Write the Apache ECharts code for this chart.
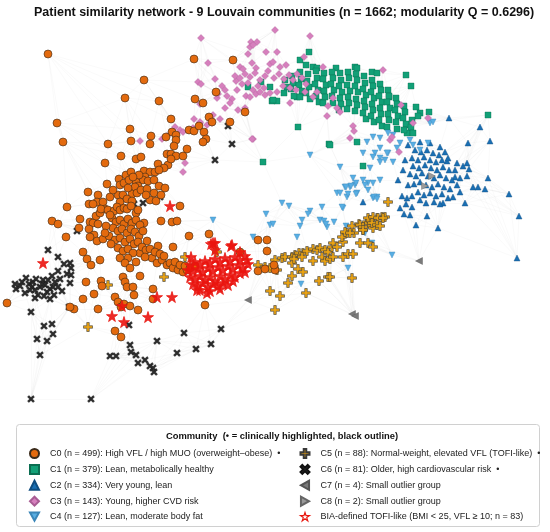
<!DOCTYPE html>
<html>
<head>
<meta charset="utf-8">
<script src="https://cdn.jsdelivr.net/npm/echarts@6/dist/echarts.min.js"></script>
<style>
  html, body { margin: 0; padding: 0; background: #fff; }
  #chart { width: 550px; height: 532px; }
</style>
</head>
<body>
<div id="chart"></div>
<script>
let c0 = [[48,54],[194,59],[233,60],[144,80],[125,98],[159,101],[195,99],[203,103],[216,92],[57,123],[63,142],[171,119],[130,129],[209,117],[212,122],[245,112],[230,122],[189,130],[194,131],[199,126],[204,132],[172,132],[176,135],[166,137],[151,136],[150,144],[131,141],[108,144],[206,139],[203,142],[176,140],[174,146],[121,156],[136,159],[141,157],[167,154],[171,154],[176,156],[183,156],[187,149],[105,163],[158,164],[168,165],[164,168],[171,159],[144,171],[150,172],[155,172],[159,170],[145,177],[143,180],[119,179],[107,184],[120,185],[124,183],[136,182],[138,186],[135,187],[148,181],[154,180],[159,186],[165,188],[88,192],[98,195],[110,197],[118,195],[123,195],[132,194],[137,193],[141,190],[147,189],[154,193],[97,202],[103,202],[120,202],[127,199],[132,201],[150,200],[156,201],[89,204],[93,204],[105,209],[67,207],[180,206],
  [52,221],[58,224],[66,237],[80,219],[79,228],[90,222],[93,223],[98,224],[96,216],[100,213],[101,209],[108,210],[114,211],[117,207],[120,210],[124,208],[127,209],[131,206],[136,213],[138,210],[89,229],[94,235],[90,237],[97,241],[103,239],[109,236],[144,223],[161,221],[172,222],[177,221],[189,236],[209,234],[147,241],[158,246],[173,247],[83,252],[87,259],[91,265],[100,260],[140,253],[152,258],[157,263],[162,260],[167,265],[170,263],[173,268],[178,270],[183,272],[187,270],[123,277],[125,282],[127,287],[133,287],[134,295],[140,276],[86,282],[101,281],[102,286],[94,294],[83,299],[98,309],[74,309],[70,307],[7,303],[115,297],[118,302],[121,307],[124,304],[130,306],[138,310],[153,299],[153,289],[115,331],[121,337],[205,305],[258,240],[267,240],[267,251],[240,252],[258,271],[265,269],[275,270],[274,265],
  [112,218],[116,222],[120,220],[124,224],[128,219],[132,223],[136,220],[140,225],[113,228],[118,231],[122,229],[127,233],[131,229],[135,232],[139,236],[143,231],[115,240],[120,238],[125,242],[130,239],[134,244],[138,242],[142,247],[146,250],[118,248],[123,251],[128,249],[133,253],[150,249],[155,252],[160,254],[164,256],[110,215],[106,226],[105,233],[111,244],[128,258],[136,262],[145,257],[120,258],[125,263],[130,268],[175,262],[180,265],[185,266],[190,268],[195,266],[126,175],[131,172],[139,175],[128,188],[113,190],[146,195],[161,195],[129,180],[133,177]];

let c1 = [[309,52],[300,60],[306,65],[313,67],[317,68],[336,68],[355,67],[357,68],[406,75],[411,86],[372,72],[377,73],[248,87],[261,82],[270,87],[272,101],[277,101],[297,97],[298,127],[329,144],[263,162],[357,142],[363,166],[416,107],[420,113],[418,116],[429,112],[389,97],[488,115],[410,125],[407,133],[330,145],[273,100],
  [285,80],[287,87],[284,93],[292,76],[293,83],[291,89],[294,96],[300,72],[301,79],[299,85],[302,91],[300,97],[308,74],[307,81],[309,87],[306,93],[310,99],[316,71],[317,78],[315,84],[318,90],[316,96],[319,102],[324,73],[323,79],[326,85],[324,91],[325,97],[323,103],[332,72],[333,78],[331,84],[334,90],[332,96],[333,103],[340,73],[341,80],[339,86],[342,92],[340,98],[341,104],[339,110],[348,72],[349,78],[347,85],[350,91],[348,97],[349,103],[347,109],[356,74],[357,80],[355,86],[358,92],[356,99],[357,105],[355,111],[364,76],[365,83],[363,89],[366,95],[364,101],[365,107],[363,113],[366,119],[372,80],[373,86],[371,92],[374,98],[372,104],[373,110],[371,116],[374,122],[380,84],[381,90],[379,96],[382,102],[380,108],[381,114],[379,120],[382,126],[388,90],[389,96],[387,102],[390,108],[388,114],[389,120],[387,127],[396,98],[397,104],[395,110],[398,116],[396,122],[397,129],[404,106],[405,112],[403,118],[406,124],[404,130],[412,120],[411,127],[413,133]];

let c2 = [[449,118],[480,127],[468,143],[490,141],[430,143],[440,147],[447,161],[457,163],[463,166],[467,163],[469,169],[467,176],[488,178],[473,187],[478,187],[485,189],[465,203],[509,194],[519,216],[517,258],[438,228],[427,216],[416,225],[404,214],[410,215],[412,207],[408,185],[407,198],[363,202],[453,197],[443,203],[455,177],
  [415,150],[421,152],[427,150],[433,153],[439,155],[445,152],[412,158],[418,160],[424,157],[430,160],[436,162],[442,160],[448,158],[413,166],[419,168],[425,165],[431,168],[437,170],[443,167],[449,170],[410,174],[416,176],[422,173],[428,176],[434,178],[440,175],[446,178],[452,180],[414,184],[420,182],[426,185],[432,187],[438,184],[444,187],[450,189],[418,192],[424,195],[430,193],[436,196],[442,194],[448,198],[412,196],[420,200],[426,203],[434,202],[440,204],[406,204],[400,208],[402,196],[457,185],[460,192],[405,160],[403,170],[398,180],[455,170],[460,178],[408,145],[420,142]];

let c3 = [[275,30],[310,36],[201,38],[251,42],[257,42],[250,47],[253,45],[266,52],[277,52],[248,54],[304,57],[208,63],[240,67],[243,69],[252,63],[256,68],[270,64],[273,62],[286,65],[280,67],[323,67],[383,70],[215,79],[198,82],[201,84],[222,86],[236,81],[242,84],
  [235,76],[240,78],[245,74],[250,77],[255,73],[260,80],[265,76],[268,71],[274,78],[279,74],[284,79],[289,75],[293,80],[297,74],[302,78],[306,84],[258,86],[264,88],[248,83],[253,90],[283,86],[290,88],[296,90],[246,96],[256,94],
  [217,92],[227,96],[237,90],[250,97],[260,92],[265,95],[270,93],[277,92],[290,103],[305,92],[313,97],[317,92],[328,106],[333,98],[337,108],[340,112],[327,116],[232,99],[238,110],[245,108],[225,108],[213,115],[220,119],[212,123],[207,125],[200,123],[193,128],[253,139],[353,126],[354,131],[350,138],[185,163],[183,172],[390,140],[401,105],[413,123],[428,118],[200,104],[217,98],[218,94],[194,119],[200,122],[175,127],[180,130],[183,132],[162,139],[167,136],[140,141],[252,139],[225,90],[230,103],[399,152],[392,137]];

let c4 = [[373,137],[380,138],[388,133],[393,135],[400,143],[410,140],[397,148],[388,153],[385,160],[380,158],[375,153],[363,153],[370,168],[340,167],[353,178],[363,180],[368,183],[380,180],[345,187],[350,187],[355,185],[337,193],[347,197],[357,193],[368,190],[373,198],[377,197],[343,208],[334,222],[392,255],[348,268],[430,123],[433,122],[413,145],[428,143],[420,150],
  [367,142],[380,148],[387,153],[373,157],[380,162],[393,162],[310,155],
  [213,220],[266,214],[270,225],[273,224],[282,203],[289,206],[297,237],[302,220],[300,226],[310,211],[308,214],[320,220],[324,221],[327,227],[326,224],[322,207],[340,193],[346,187],[351,186],[356,183],[365,185],[373,183],[342,207],[348,194],[356,194],[374,197],[377,199],[346,226],[301,284],[253,237],[372,243],[365,233]];

let c5 = [[258,265],[265,267],[275,260],[282,258],[285,257],[292,257],[295,255],[299,253],[303,253],[307,251],[313,249],[317,250],[320,248],[325,250],[328,252],[332,247],[333,243],[337,247],[343,242],[342,237],[347,233],[352,226],[354,233],[359,224],[363,230],[367,222],[369,223],[373,228],[377,218],[382,217],[385,217],[370,220],
  [270,268],[277,270],[292,263],[294,259],[302,257],[313,261],[322,257],[325,261],[330,259],[333,257],[343,257],[348,254],[353,254],[360,243],[368,243],[373,247],[298,269],[303,272],[292,276],[288,283],[319,281],[328,277],[352,278],[270,291],[280,296],[306,293],[275,310],[388,202],
  [368,218],[373,217],[378,218],[383,218],[360,225],[363,227],[372,223],[377,225],[380,226],[345,232],[350,233],[363,230],[330,277],[88,327],[108,285],[164,277],[185,257],[217,252]];

let c6 = [[48,250],[58,257],[64,264],[70,263],[71,268],[58,271],[67,274],[71,275],[77,231],[134,204],[143,203],[15,284],[22,282],[16,289],[29,284],[33,282],[32,287],[35,290],[40,287],[43,280],[45,285],[38,295],[47,292],[50,289],[53,287],[55,282],[58,287],[54,295],[70,283],[69,307],[31,312],[44,326],[52,324],[53,334],[37,339],[47,341],[40,355],[31,399],[91,399],[110,356],[116,356],[129,325],[130,345],[131,352],[136,355],[138,363],[145,360],[150,366],[153,368],[154,372],[157,341],[177,353],[184,333],[196,349],[211,344],[221,329],[228,126],[232,144],[215,160],[160,197],
  [36,279],[42,284],[48,280],[30,290],[26,278],[52,276],[60,279],[62,291],[44,296],[25,293],[20,286],[35,298],[50,299]];

let c7 = [[248,300],[352,314],[419,261],[355,316]];
let c8 = [[432,176],[425,186]];

let tofi = [[170,206],[43,263],[211,244],[215,243],[231,246],[157,297],[172,297],[197,290],[207,293],[122,306],[112,316],[124,322],[148,317],[191,257],[213,243],[232,245],[215,250],[240,252],[247,260],
  [190,265],[195,262],[200,264],[205,261],[210,263],[215,259],[220,262],[225,258],[230,261],[235,257],[240,260],[245,256],[188,270],[193,271],[198,269],[203,272],[208,268],[213,271],[218,267],[223,270],[228,266],[233,269],[238,265],[243,268],[248,264],[190,277],[195,279],[200,276],[205,280],[210,277],[215,281],[220,276],[225,279],[230,275],[235,277],[240,273],[245,272],[193,284],[198,286],[203,283],[208,287],[213,284],[218,286],[223,283],[228,285],[233,281],[200,290],[210,291],[220,289]];

let names = [
  "C0 (n = 499): High VFL / high MUO (overweight\u2013obese)  \u2022",
  "C1 (n = 379): Lean, metabolically healthy",
  "C2 (n = 334): Very young, lean",
  "C3 (n = 143): Young, higher CVD risk",
  "C4 (n = 127): Lean, moderate body fat",
  "C5 (n = 88): Normal-weight, elevated VFL (TOFI-like)  \u2022",
  "C6 (n = 81): Older, high cardiovascular risk  \u2022",
  "C7 (n = 4): Small outlier group",
  "C8 (n = 2): Small outlier group",
  "BIA-defined TOFI-like (BMI < 25, VFL \u2265 10; n = 83)"
];

const STAR = 'path://M50,0L61.2,34.5L97.6,34.5L68.2,55.9L79.4,90.5L50,69.1L20.6,90.5L31.8,55.9L2.4,34.5L38.8,34.5Z';
const PLUS = 'path://M36,0H64V36H100V64H64V100H36V64H0V36H36Z';
const XMARK = 'path://M20,0L50,30L80,0L100,20L70,50L100,80L80,100L50,70L20,100L0,80L30,50L0,20Z';
const TRI_DOWN = 'path://M0,0H100L50,90Z';
const TRI_LEFT = 'path://M90,0V100L0,50Z';
const TRI_RIGHT = 'path://M0,0V100L90,50Z';

// similarity edges: each node joined to its nearest neighbours
function buildEdges(all, k) {
  let seen = {};
  let out = [];
  for (let i = 0; i < all.length; i++) {
    let d = [];
    for (let j = 0; j < all.length; j++) {
      if (i == j) continue;
      let dx = all[i][0] - all[j][0], dy = all[i][1] - all[j][1];
      d.push([dx * dx + dy * dy, j]);
    }
    d.sort(function (a, b) { return a[0] - b[0]; });
    for (let n = 0; n < k && n < d.length; n++) {
      let j = d[n][1];
      let key = i < j ? i + '_' + j : j + '_' + i;
      if (seen[key]) continue;
      seen[key] = true;
      out.push({ coords: [all[i], all[j]] });
    }
  }
  return out;
}

let allNodes = [].concat(c0, c1, c2, c3, c4, c5, c6, c7, c8);
let edges = buildEdges(allNodes, 8);

function sc(name, data, symbol, size, color, border, bw, z) {
  return {
    name: name,
    type: 'scatter',
    data: data,
    symbol: symbol,
    symbolSize: size,
    z: z,
    silent: true,
    itemStyle: { color: color, borderColor: border, borderWidth: bw, opacity: 1 }
  };
}

let chart = echarts.init(document.getElementById('chart'), null, { renderer: 'canvas' });
let font = 'Liberation Sans, Arial, sans-serif';
let legendText = { fontSize: 9, lineHeight: 10, color: '#222', fontFamily: font, padding: [0, 0, 0, 6] };

chart.setOption({
  backgroundColor: '#ffffff',
  animation: false,
  title: {
    text: 'Patient similarity network - 9 Louvain communities (n = 1662; modularity Q = 0.6296)',
    left: 29,
    top: 1,
    textStyle: { fontSize: 12.5, fontWeight: 'bold', color: '#111', fontFamily: font }
  },
  grid: { left: 0, right: 0, top: 0, bottom: 0 },
  xAxis: { type: 'value', min: 0, max: 550, show: false },
  yAxis: { type: 'value', min: 0, max: 532, inverse: true, show: false },
  legend: [{
    orient: 'vertical', left: 29, top: 448, padding: 0,
    itemWidth: 9, itemHeight: 9, itemGap: 4.9, selectedMode: false,
    textStyle: legendText,
    data: names.slice(0, 5)
  }, {
    orient: 'vertical', left: 299.5, top: 448, padding: 0,
    itemWidth: 9, itemHeight: 9, itemGap: 4.9, selectedMode: false,
    textStyle: legendText,
    data: [names[5], names[6], names[7], names[8],
      { name: names[9], itemStyle: { color: '#ffffff', borderColor: '#e8170f', borderWidth: 1.2 } }]
  }],
  graphic: [{
    type: 'rect',
    shape: { x: 16.5, y: 424.5, width: 523, height: 102, r: 3 },
    style: { fill: '#ffffff', stroke: '#d0d0d0', lineWidth: 1 },
    z: -1
  }, {
    type: 'text',
    x: 282, y: 436,
    style: {
      text: 'Community  (\u2022 = clinically highlighted, black outline)',
      fontSize: 9.4, fontWeight: 'bold', fill: '#111', fontFamily: font,
      textAlign: 'center', textVerticalAlign: 'middle'
    }
  }],
  series: [
    {
      type: 'lines',
      coordinateSystem: 'cartesian2d',
      data: edges,
      silent: true,
      z: 1,
      lineStyle: { color: '#808080', width: 0.5, opacity: 0.08 }
    },
    sc(names[1], c1, 'rect', 6, '#12a077', '#0b6e52', 0.4, 2),
    sc(names[2], c2, 'triangle', 6, '#1a6fb3', '#0f4d80', 0.4, 2),
    sc(names[4], c4, TRI_DOWN, 6, '#58aee3', '#3a86b8', 0.4, 3),
    sc(names[3], c3, 'diamond', 7, '#d67fbd', '#a85c93', 0.4, 3),
    sc(names[6], c6, XMARK, 7, '#2b2b2b', '#111', 0.4, 4),
    sc(names[5], c5, PLUS, 9, '#eba312', '#3a3a3a', 0.6, 4),
    sc(names[0], c0, 'circle', 8, '#e36a0e', '#3a2a1a', 0.6, 5),
    sc(names[7], c7, TRI_LEFT, 7, '#7a7a7a', '#555', 0.4, 5),
    sc(names[8], c8, TRI_RIGHT, 7, '#9a9a9a', '#666', 0.4, 5),
    sc(names[9], tofi, STAR, 11, 'rgba(235,20,15,0.9)', '#e8170f', 0.8, 6)
  ]
});
</script>
</body>
</html>
